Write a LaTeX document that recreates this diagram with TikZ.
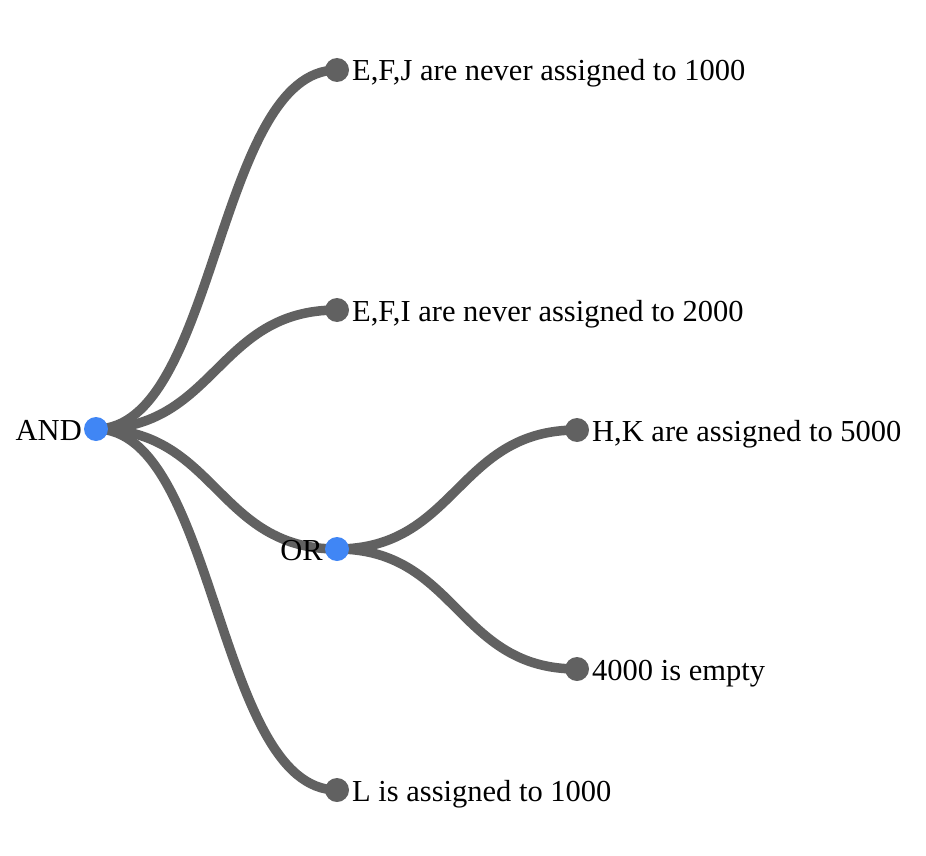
\documentclass[tikz,border=0pt]{standalone}
\usepackage{fontspec}
\setmainfont{Liberation Serif}
\definecolor{linkgray}{RGB}{97,97,97}
\definecolor{dotblue}{RGB}{64,134,245}
\begin{document}
\begin{tikzpicture}[x=1pt,y=-1pt,
  link/.style={draw=linkgray,line width=9.5pt},
  inner/.style={circle,fill=dotblue,minimum size=24pt,inner sep=0pt},
  leaf/.style={circle,fill=linkgray,minimum size=24pt,inner sep=0pt},
  lbl/.style={font=\fontsize{30.5}{34}\selectfont,inner sep=0pt}]
\useasboundingbox (0,0) rectangle (926,856);
\coordinate (and) at (96,429);
\coordinate (or) at (337,549);
\coordinate (l1) at (337,70);
\coordinate (l2) at (337,310);
\coordinate (l3) at (577,430);
\coordinate (l4) at (577,669);
\coordinate (l5) at (337,790);
\draw[link] (and) .. controls (216.5,429) and (216.5,70) .. (l1);
\draw[link] (and) .. controls (216.5,429) and (216.5,310) .. (l2);
\draw[link] (and) .. controls (216.5,429) and (216.5,549) .. (or);
\draw[link] (and) .. controls (216.5,429) and (216.5,790) .. (l5);
\draw[link] (or) .. controls (457,549) and (457,430) .. (l3);
\draw[link] (or) .. controls (457,549) and (457,669) .. (l4);
\node[inner] (andn) at (and) {};
\node[inner] (orn) at (or) {};
\node[leaf] (n1) at (l1) {};
\node[leaf] (n2) at (l2) {};
\node[leaf] (n3) at (l3) {};
\node[leaf] (n4) at (l4) {};
\node[leaf] (n5) at (l5) {};
\node[lbl,anchor=base east] at ([xshift=-14pt,yshift=-11pt]and) {AND};
\node[lbl,anchor=base east] at ([xshift=-14pt,yshift=-11pt]or) {OR};
\node[lbl,anchor=base west] at ([xshift=15pt,yshift=-11pt]l1) {E,F,J are never assigned to 1000};
\node[lbl,anchor=base west] at ([xshift=15pt,yshift=-11pt]l2) {E,F,I are never assigned to 2000};
\node[lbl,anchor=base west] at ([xshift=15pt,yshift=-11pt]l3) {H,K are assigned to 5000};
\node[lbl,anchor=base west] at ([xshift=15pt,yshift=-11pt]l4) {4000 is empty};
\node[lbl,anchor=base west] at ([xshift=15pt,yshift=-11pt]l5) {L is assigned to 1000};
\end{tikzpicture}
\end{document}
